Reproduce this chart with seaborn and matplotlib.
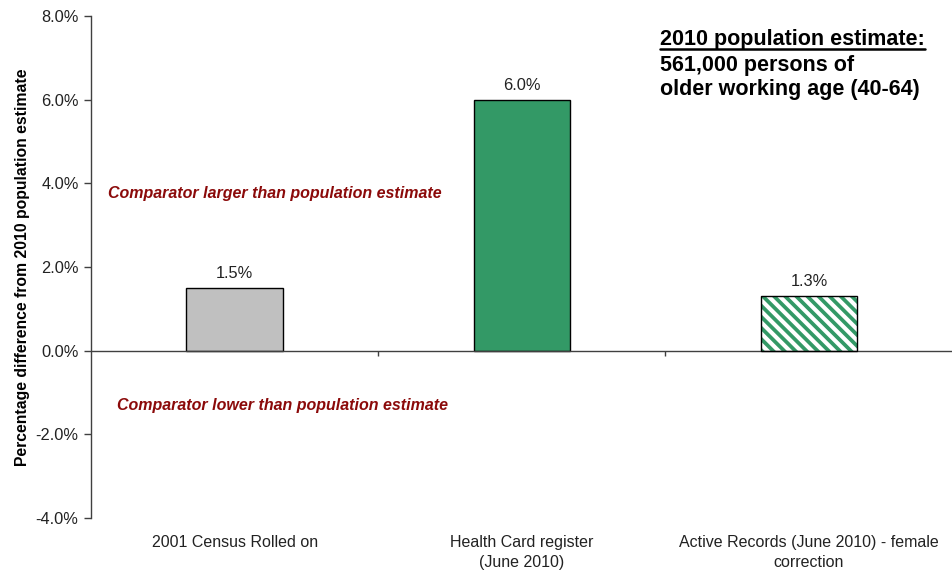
import matplotlib
matplotlib.use("Agg")
import matplotlib.pyplot as plt
import seaborn as sns
import pandas as pd
from matplotlib.ticker import FuncFormatter
from matplotlib.lines import Line2D

# Data
categories = [
    "2001 Census Rolled on",
    "Health Card register\n(June 2010)",
    "Active Records (June 2010) - female\ncorrection",
]
values = [1.5, 6.0, 1.3]
value_labels = ["1.5%", "6.0%", "1.3%"]
bar_colors = ["#C0C0C0", "#339966", "#FFFFFF"]
y_ticks = [-4, -2, 0, 2, 4, 6, 8]

sns.set_theme(style="white")
plt.rcParams["font.family"] = ["Liberation Sans", "DejaVu Sans"]
plt.rcParams["hatch.linewidth"] = 2.7

df = pd.DataFrame({"source": categories, "diff": values})

fig = plt.figure(figsize=(9.53, 5.74), dpi=100)
ax = fig.add_axes([0.0955, 0.0976, 0.904, 0.8745])

sns.barplot(data=df, x="source", y="diff", hue="source", palette=bar_colors,
            order=categories, hue_order=categories, width=0.335, legend=False,
            edgecolor="black", linewidth=1.0, saturation=1, ax=ax)

# Striped fill for the corrected active-records bar
hatched = ax.patches[2]
hatched.set_facecolor("white")
hatched.set_hatch("\\\\\\")
hatched.set_edgecolor("#339966")
hatched.set_linewidth(0)
outline = plt.Rectangle(hatched.get_xy(), hatched.get_width(), hatched.get_height(),
                        fill=False, edgecolor="black", linewidth=1.0, zorder=hatched.get_zorder() + 0.1)
ax.add_patch(outline)

ax.set_xlim(-0.5, 2.5)
ax.set_ylim(-4, 8)
ax.set_yticks(y_ticks)
ax.yaxis.set_major_formatter(FuncFormatter(lambda v, _: f"{v:.1f}%"))
ax.tick_params(axis="y", direction="out", length=5, width=1, color="#404040",
               labelsize=11.8, labelcolor="#222222", pad=4, left=True)
ax.tick_params(axis="x", length=0, labelsize=11.5, labelcolor="#222222", pad=12)
for lab in ax.get_xticklabels():
    lab.set_linespacing(1.45)
ax.set_xlabel("")
ax.set_ylabel("Percentage difference from 2010 population estimate",
              fontsize=11.3, fontweight="bold", color="black", labelpad=4)

for side in ["top", "right", "bottom"]:
    ax.spines[side].set_visible(False)
ax.spines["left"].set_color("#404040")
ax.spines["left"].set_linewidth(1)

# Zero line with category boundary ticks
ax.axhline(0, color="#404040", linewidth=1, zorder=1)
ax.vlines([0.5, 1.5, 2.5], -0.13, 0, color="#404040", linewidth=1, zorder=1)

for i, (v, lab) in enumerate(zip(values, value_labels)):
    ax.annotate(lab, xy=(i, v), xytext=(0, 5), textcoords="offset points",
                ha="center", va="bottom", fontsize=11.8, color="#222222")

red = "#8B0A0A"
ax.text(-0.44, 3.75, "Comparator larger than population estimate", color=red,
        fontsize=11.5, fontweight="bold", fontstyle="italic", va="center", ha="left")
ax.text(-0.41, -1.3, "Comparator lower than population estimate", color=red,
        fontsize=11.5, fontweight="bold", fontstyle="italic", va="center", ha="left")

# Headline note with underlined first line
t1 = ax.text(0.661, 0.975, "2010 population estimate:", transform=ax.transAxes,
             fontsize=15.5, fontweight="bold", color="black", ha="left", va="top")
ax.text(0.661, 0.922, "561,000 persons of\nolder working age (40-64)",
        transform=ax.transAxes, fontsize=15.5, fontweight="bold", color="black",
        ha="left", va="top", linespacing=1.18)
fig.canvas.draw()
bb = t1.get_window_extent(fig.canvas.get_renderer())
inv = fig.transFigure.inverted()
(x0, y0), (x1, _) = inv.transform([(bb.x0, bb.y0 + 1), (bb.x1, bb.y0)])
fig.add_artist(Line2D([x0, x1], [y0, y0], transform=fig.transFigure,
                      color="black", linewidth=1.8))

fig.savefig("out.png", dpi=100)
